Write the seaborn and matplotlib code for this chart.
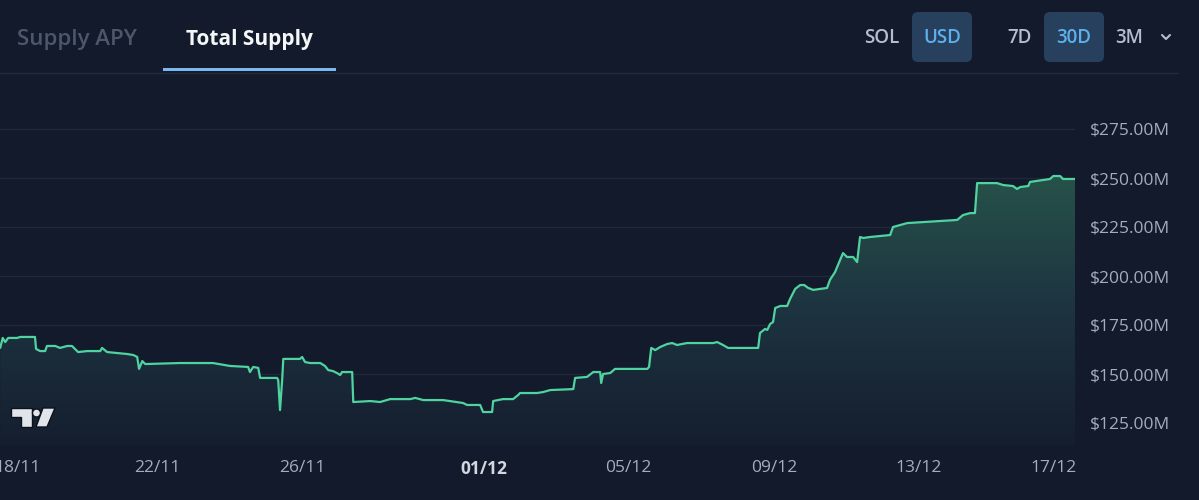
import numpy as np
import seaborn as sns
import matplotlib.pyplot as plt
from matplotlib.patches import FancyBboxPatch, Rectangle, Circle, Polygon
from matplotlib.lines import Line2D
from matplotlib.colors import LinearSegmentedColormap
from matplotlib.transforms import Affine2D, ScaledTranslation

# total supply (M USD), x = days since 18/11
days = [-0.34, -0.27, -0.20, -0.12, 0.13, 0.21, 0.62, 0.65, 0.76, 0.90,
        0.95, 1.18, 1.31, 1.51, 1.64, 1.81, 2.06, 2.42, 2.47, 2.61,
        3.16, 3.33, 3.44, 3.49, 3.58, 3.66, 3.71, 4.62, 5.53, 6.00,
        6.50, 6.55, 6.64, 6.78, 6.83, 7.02, 7.30, 7.33, 7.38, 7.44,
        7.47, 7.93, 7.99, 8.07, 8.21, 8.49, 8.62, 8.71, 8.84, 8.95,
        9.04, 9.09, 9.37, 9.40, 9.87, 10.14, 10.42, 10.97, 11.11, 11.33,
        11.88, 12.07, 12.27, 12.43, 12.54, 12.90, 12.98, 13.23, 13.26, 13.53,
        13.81, 13.95, 14.00, 14.47, 14.64, 14.83, 15.47, 15.52, 15.85, 16.02,
        16.21, 16.24, 16.29, 16.49, 16.62, 17.51, 17.56, 17.62, 17.73, 17.87,
        18.06, 18.20, 18.33, 18.61, 19.33, 19.44, 19.60, 19.74, 20.57, 20.62,
        20.76, 20.82, 20.90, 20.98, 21.04, 21.18, 21.37, 21.45, 21.59, 21.73,
        21.84, 21.95, 22.09, 22.47, 22.55, 22.69, 22.91, 23.02, 23.19, 23.30,
        23.38, 23.47, 23.66, 24.21, 24.29, 24.49, 24.68, 26.06, 26.22, 26.42,
        26.55, 26.61, 27.16, 27.33, 27.60, 27.71, 27.80, 28.02, 28.07, 28.62,
        28.71, 28.90, 28.98, 29.31]
supply_musd = [163.3, 168.4, 166.3, 168.4, 168.4, 168.9, 168.9, 162.8, 161.7, 161.7,
               164.3, 164.3, 163.3, 164.3, 164.3, 161.2, 161.7, 161.7, 163.3, 161.2,
               160.2, 159.7, 158.7, 152.6, 156.6, 155.1, 155.1, 155.6, 155.6, 154.1,
               153.6, 151.0, 153.6, 153.1, 148.0, 148.0, 148.0, 146.9, 131.6, 147.4,
               157.7, 157.7, 158.7, 156.1, 155.6, 155.6, 154.1, 152.0, 151.5, 150.5,
               149.5, 151.0, 151.0, 135.7, 136.2, 135.7, 137.2, 137.2, 137.8, 136.7,
               136.7, 136.2, 135.7, 135.2, 134.2, 134.2, 130.6, 130.6, 136.2, 137.2,
               137.2, 139.3, 140.3, 140.3, 140.8, 141.8, 142.3, 148.0, 148.5, 151.0,
               151.0, 145.4, 150.0, 150.5, 152.6, 152.6, 153.6, 163.3, 162.2, 163.8,
               165.3, 165.8, 164.8, 165.8, 165.8, 166.3, 164.8, 163.3, 163.3, 170.9,
               173.0, 172.5, 175.5, 176.5, 183.7, 184.7, 184.7, 188.3, 193.4, 195.4,
               195.4, 193.9, 192.9, 193.9, 198.0, 202.0, 211.7, 209.7, 209.7, 207.1,
               219.9, 219.4, 219.9, 220.9, 225.0, 226.0, 227.0, 228.6, 231.1, 232.1,
               232.1, 247.4, 247.4, 246.4, 245.9, 244.4, 245.4, 245.9, 248.0, 249.5,
               251.0, 251.0, 249.5, 249.5]

tick_days = [0, 4, 8, 13, 17, 21, 25, 29]
tick_labels = ["18/11", "22/11", "26/11", "01/12", "05/12", "09/12", "13/12", "17/12"]
y_ticks = [125, 150, 175, 200, 225, 250, 275]
tabs = ["Supply APY", "Total Supply"]
currencies = ["SOL", "USD"]
ranges = ["7D", "30D", "3M"]

BG = "#131a2b"
GRID = "#212939"
LINE = "#4fd3a0"
LABEL = "#a3adbb"
BTN = "#26405e"
BTN_TXT = "#5eb0ec"
OPT = "#b4bfcc"

sns.set_theme(style="dark")
plt.rcParams["font.family"] = ["Open Sans", "DejaVu Sans"]

W, H = 1199, 500
fig = plt.figure(figsize=(W / 100, H / 100), dpi=100, facecolor=BG)
# pixel coords, origin at top-left
pix = Affine2D().scale(1, -1).translate(0, H).scale(1 / 100) + fig.dpi_scale_trans


def val(ypx):
    return 250 - (ypx - 178) / 1.96


ax = fig.add_axes([0, 1 - 445 / H, 1075 / W, (445 - 75) / H])
ax.set_facecolor(BG)
xmin, xmax = -0.345, 29.31
ylo, yhi = val(445), val(75)
ax.set_xlim(xmin, xmax)
ax.set_ylim(ylo, yhi)

# gradient area under the line
grad = np.linspace(0, 1, 256).reshape(-1, 1)
cmap = LinearSegmentedColormap.from_list("area", ["#151e2f", "#1d3340", "#265249"])
im = ax.imshow(grad, aspect="auto", cmap=cmap, origin="lower",
               extent=[xmin, xmax, ylo, max(supply_musd)], zorder=1)
poly = ax.fill_between(days, supply_musd, ylo, color="none", lw=0)
im.set_clip_path(poly.get_paths()[0], transform=ax.transData)

sns.lineplot(x=days, y=supply_musd, ax=ax, color=LINE, lw=1.6,
             estimator=None, sort=False, zorder=3)

ax.set_yticks(y_ticks)
ax.set_yticklabels([f"${v:.2f}M" for v in y_ticks])
ax.yaxis.tick_right()
ax.set_xticks(tick_days)
ax.set_xticklabels(tick_labels)
ax.tick_params(axis="y", length=0, pad=11, labelsize=12.5, labelcolor=LABEL)
ax.tick_params(axis="x", length=0, pad=11, labelsize=12.5, labelcolor=LABEL)
ax.grid(axis="y", color=GRID, lw=1)
ax.grid(axis="x", visible=False)
for s in ax.spines.values():
    s.set_visible(False)
xl = ax.get_xticklabels()
xl[3].set_fontweight("bold")
xl[3].set_color("#d2d8e0")
xl[0].set_transform(xl[0].get_transform() + ScaledTranslation(5 / 100, 0, fig.dpi_scale_trans))
xl[-1].set_transform(xl[-1].get_transform() + ScaledTranslation(-10 / 100, 0, fig.dpi_scale_trans))
ax.set_xlabel("")
ax.set_ylabel("")

# header: tabs
fig.text(77, 40, tabs[0], transform=pix, ha="center", va="center",
         fontsize=16, fontweight="semibold", color="#4c5869")
fig.text(249, 40, tabs[1], transform=pix, ha="center", va="center",
         fontsize=15, fontweight="bold", color="#f4f6f8")
fig.add_artist(Rectangle((163, 68), 173, 3, transform=pix, color="#79b9f0", lw=0))
fig.add_artist(Line2D([0, 1178], [72.5, 72.5], transform=pix, color="#232b3c", lw=1))

# header: buttons
for x0 in (912, 1044):
    fig.add_artist(FancyBboxPatch((x0 + 6, 18), 48, 38, boxstyle="round,pad=6",
                                  transform=pix, fc=BTN, ec="none"))
btn_font = dict(transform=pix, ha="center", va="center", fontsize=13.5, fontweight="semibold")
fig.text(882, 38, currencies[0], color=OPT, **btn_font)
fig.text(942, 38, currencies[1], color=BTN_TXT, **btn_font)
fig.text(1020, 38, ranges[0], color=OPT, **btn_font)
fig.text(1074, 38, ranges[1], color=BTN_TXT, **btn_font)
fig.text(1129, 38, ranges[2], color=OPT, **btn_font)
fig.add_artist(Line2D([1162, 1166, 1170], [35, 39, 35], transform=pix, color=OPT, lw=1.5))

# TradingView logo
logo = dict(transform=pix, fc="#e1e4ea", ec="#0d111c", lw=1, zorder=5)
fig.add_artist(Polygon([(11, 408), (32, 408), (32, 427), (21, 427), (21, 417), (11, 417)], **logo))
fig.add_artist(Circle((36.5, 413), 4, **logo))
fig.add_artist(Polygon([(43, 408), (55, 408), (47, 427), (36, 427)], **logo))

fig.savefig("out.png", dpi=100, facecolor=BG)
